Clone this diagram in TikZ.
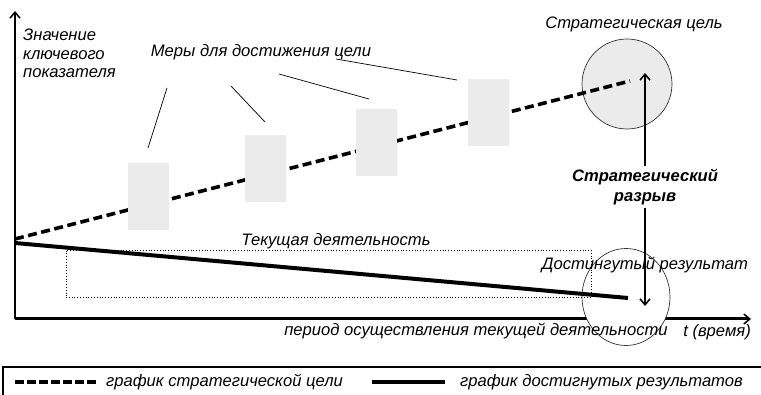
\documentclass[tikz,border=0pt]{standalone}
\usepackage{fontspec}
\setmainfont{Liberation Sans}
\usetikzlibrary{arrows.meta,shapes.geometric}
\begin{document}
\begin{tikzpicture}[x=1pt,y=-1pt,
  lbl/.style={font=\fontsize{16.6}{18.5}\selectfont\itshape, inner sep=0pt},
  boldlbl/.style={font=\fontsize{16.6}{19.5}\selectfont\bfseries\itshape, fill=white, inner xsep=4pt, inner ysep=3pt, align=center},
  measure/.style={fill=black!8, draw=none, minimum width=41pt, minimum height=67pt, inner sep=0pt},
  stratline/.style={line width=3.6pt, dash pattern=on 9pt off 4.5pt},
  resline/.style={line width=4pt},
  leader/.style={line width=0.7pt},
  axisarrow/.style={-{Straight Barb[length=6pt,width=10pt,line width=1.5pt]}},
  gaparrow/.style={{Straight Barb[length=6pt,width=10pt,line width=1.5pt]}-{Straight Barb[length=6pt,width=10pt,line width=1.5pt]}, line width=2pt},
  ring/.style={draw=black!80, line width=0.7pt}]
\useasboundingbox (0,0) rectangle (761,395);

% axes
\coordinate (O) at (15,319);
\coordinate (ytop) at (15,11);
\coordinate (xend) at (751,319);
\draw[line width=1.6pt, axisarrow] (O) -- (ytop);
\draw[line width=3pt, axisarrow] (O) -- (xend);

% circles
\node[ring, fill=black!8, circle, minimum size=90pt, inner sep=0pt] (goalc) at (627,84) {};
\node[ring, fill=white, ellipse, minimum width=88pt, minimum height=97pt, inner sep=0pt] (resc) at (626,297) {};

% dotted frame
\node[draw, dotted, line width=0.8pt, minimum width=525pt, minimum height=47pt, inner sep=0pt] (curframe) at (328.5,273.5) {};

% lines
\coordinate (s0) at (15,239);
\coordinate (s1) at (630,81);
\coordinate (r0) at (15,243);
\coordinate (r1) at (628,298);
\draw[stratline] (s0) -- (s1);
\draw[resline] (r0) -- (r1);

% measure boxes
\node[measure] (m1) at (148.5,196.5) {};
\node[measure] (m2) at (265.5,168.5) {};
\node[measure] (m3) at (376.5,142.5) {};
\node[measure] (m4) at (488.5,112.5) {};

% labels
\node[lbl, anchor=north west, align=left] (ylab) at (23,29) {Значение\\ключевого\\показателя};
\node[lbl] (mlab) at (261,52) {Меры для достижения цели};
\node[lbl] (goallab) at (634,24) {Стратегическая цель};
\node[lbl] (curlab) at (336,241) {Текущая деятельность};
\node[lbl] (reslab) at (645,265) {Достингутый результат};
\node[lbl] (xlab) at (476,331) {период осуществления текущей деятельности};
\node[lbl, anchor=east] (tlab) at (751,332) {t (время)};

% leaders
\coordinate (l1a) at (167,88);  \coordinate (l1b) at (148,148);
\coordinate (l2a) at (231,86);  \coordinate (l2b) at (265,122);
\coordinate (l3a) at (279,74);  \coordinate (l3b) at (369,99);
\coordinate (l4a) at (336,59);  \coordinate (l4b) at (457,80);
\draw[leader] (l1a) -- (l1b);
\draw[leader] (l2a) -- (l2b);
\draw[leader] (l3a) -- (l3b);
\draw[leader] (l4a) -- (l4b);

% gap arrow
\coordinate (gtop) at (645,73);
\coordinate (gbot) at (645,306);
\draw[gaparrow] (gbot) -- (gtop);
\node[boldlbl] (gaplab) at (645,187) {Стратегический\\разрыв};

% legend
\coordinate (lg0) at (3,395);
\coordinate (lg1) at (3,367);
\coordinate (lg2) at (761,367);
\draw[line width=1.2pt] (lg0) -- (lg1) -- (lg2);
\coordinate (d0) at (15,382); \coordinate (d1) at (96,382);
\draw[stratline, dash pattern=on 9pt off 3pt] (d0) -- (d1);
\node[lbl, anchor=west] (leg1) at (106,382) {график стратегической цели};
\coordinate (e0) at (372,382); \coordinate (e1) at (445,382);
\draw[resline] (e0) -- (e1);
\node[lbl, anchor=west] (leg2) at (460,382) {график достигнутых результатов};
\end{tikzpicture}
\end{document}
